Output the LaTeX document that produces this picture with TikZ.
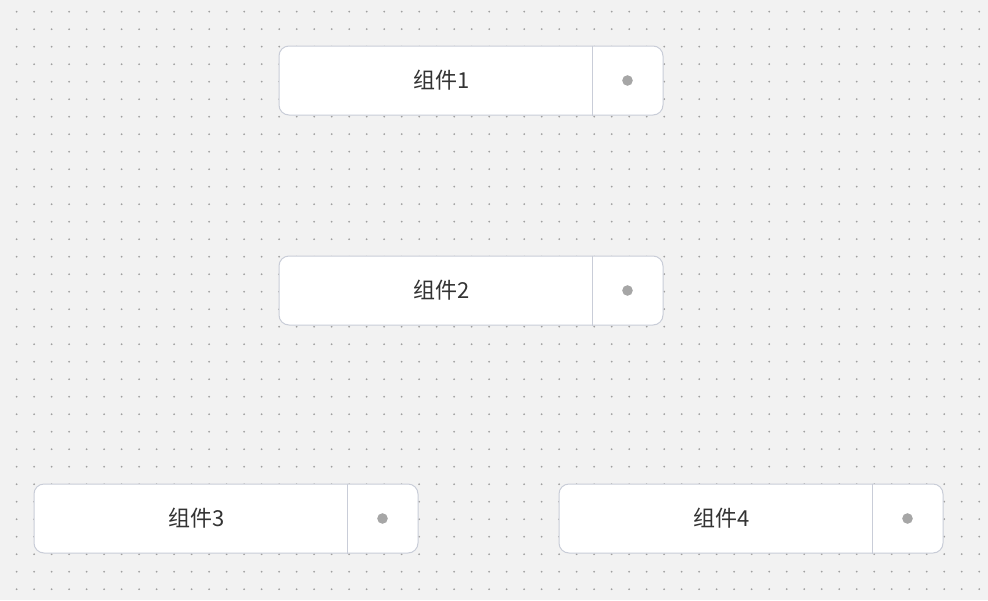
\documentclass[tikz,border=0pt]{standalone}
\usepackage{fontspec}
\setmainfont{Noto Sans CJK SC}
\usetikzlibrary{
    positioning, % relative placement
    calc % coordinate arithmetic
}
\definecolor{canvas}{HTML}{F2F2F2}
\definecolor{griddot}{HTML}{A0A0A0}
\definecolor{edge}{HTML}{C9CDD8}
\definecolor{knob}{HTML}{A6A6A6}
\definecolor{ink}{HTML}{333333}

\begin{document}
\begin{tikzpicture}[x=1pt,y=-1pt]
    % canvas
    \fill[canvas] (0,0) rectangle (988,600);
    \useasboundingbox (0,0) rectangle (988,600);
    \foreach \i in {0,...,56}
        \foreach \j in {0,...,33}
            \fill[griddot] (16.7+17.5*\i,11.7+17.5*\j) circle (1.0);
    % blocks
    \tikzstyle{block} = [rectangle, rounded corners=10pt, draw=edge, fill=white, line width=1pt,
                         minimum width=384pt, minimum height=69pt, inner sep=0pt]
    \tikzstyle{caption} = [text=ink, font=\fontsize{22pt}{25pt}\selectfont, inner sep=0pt]
    \node[block] (c1) at (471,80.5)  {};
    \node[block] (c2) at (471,290.5) {};
    \node[block] (c3) at (226,518.5) {};
    \node[block] (c4) at (751,518.5) {};
    % texts
    \node[caption] (t1) at ($(c1.west)+(163,0)$) {组件1};
    \node[caption] (t2) at ($(c2.west)+(163,0)$) {组件2};
    \node[caption] (t3) at ($(c3.west)+(163,0)$) {组件3};
    \node[caption] (t4) at ($(c4.west)+(163,0)$) {组件4};
    % divider and handle
    \foreach \b in {c1,c2,c3,c4} {
        \draw[edge, line width=1pt] ($(\b.north east)+(-71,0)$) -- ($(\b.south east)+(-71,0)$);
        \fill[knob] ($(\b.east)+(-36,0)$) circle (5.3);
    }
\end{tikzpicture}
\end{document}
